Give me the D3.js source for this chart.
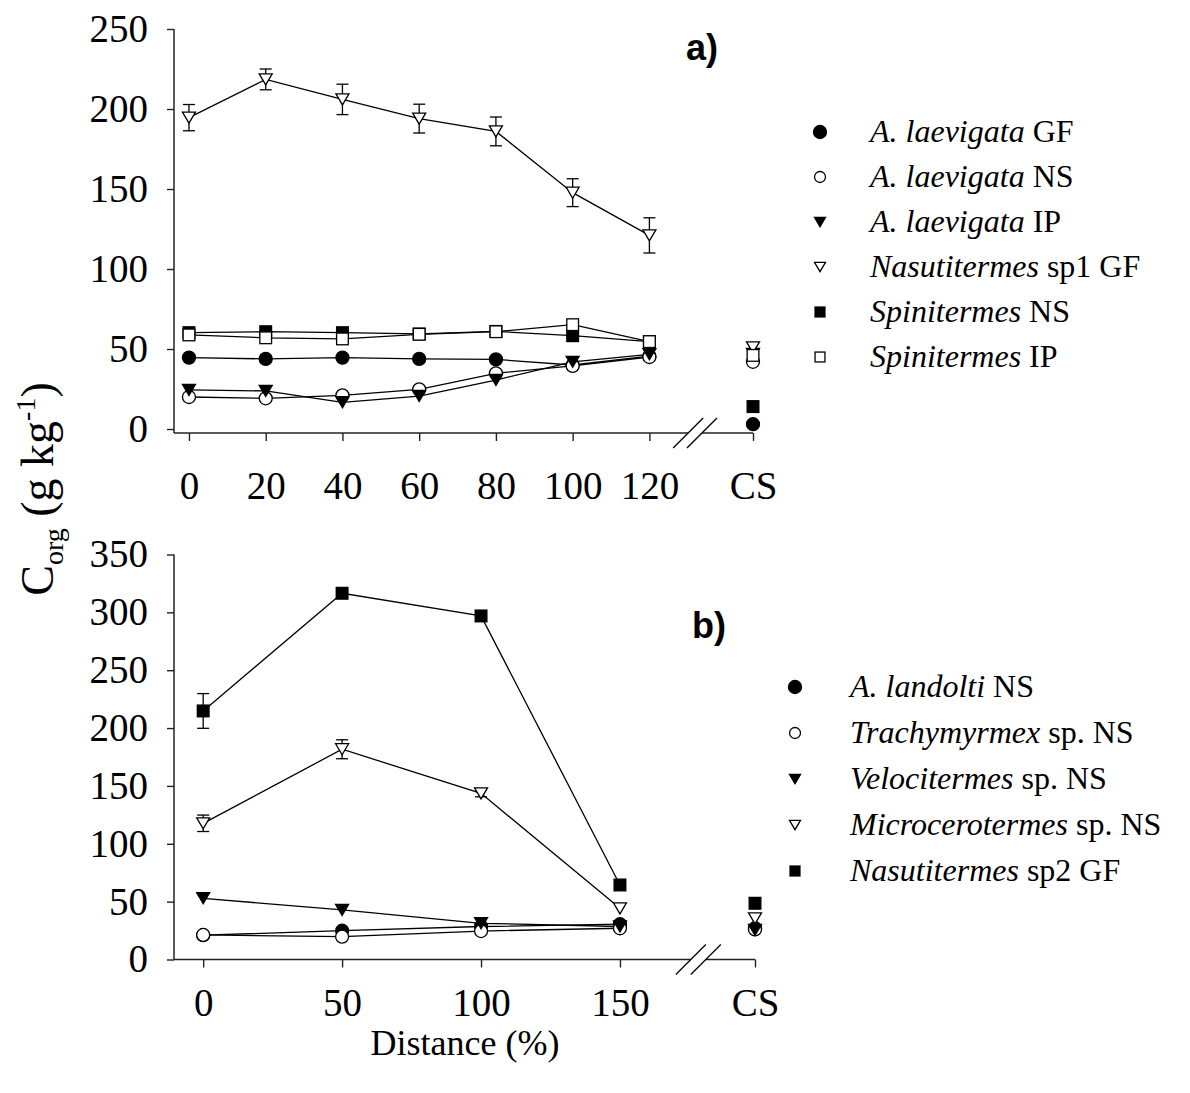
<!DOCTYPE html>
<html>
<head>
<meta charset="utf-8">
<script src="https://cdn.jsdelivr.net/npm/d3@7"></script>
<style>
  body { margin: 0; background: #fff; }
  svg { display: block; }
  .tick text { font-family: "Liberation Serif", "Times New Roman", serif; fill: #000; }
  .tick line { stroke: #222; stroke-width: 1.4px; }
</style>
</head>
<body>
<div id="chart"></div>
<script>
// Panel a) distances and series (legend order)
const distA = [0, 20, 40, 60, 80, 100, 120];
const aLaevigataGF = [44.6, 43.8, 44.6, 43.8, 43.5, 40.0, 45.6];
const aLaevigataNS = [20.0, 19.2, 21.0, 24.8, 34.8, 39.4, 45.0];
const aLaevigataIP = [24.4, 23.8, 16.7, 20.6, 30.6, 42.0, 46.7];
const nasutiSp1GF = [194.6, 218.5, 206.0, 194.0, 186.0, 147.7, 121.0];
const nasutiSp1Err = [8.2, 6.5, 9.5, 9.0, 9.0, 8.7, 11.0];
const spiniNS = [60.2, 60.8, 60.2, 59.4, 61.0, 58.3, 54.6];
const spiniIP = [58.8, 57.0, 56.3, 59.2, 60.8, 65.2, 54.6];
// control soil (CS) values, same order as legend
const csA = [3, 42, 47, 51, 14, 46];
const ticksA = [0, 20, 40, 60, 80, 100, 120];
const yTicksA = [0, 50, 100, 150, 200, 250];

// Panel b)
const distB = [0, 50, 100, 150];
const landoltiNS = [21.0, 24.9, 28.5, 30.5];
const trachyNS = [21.2, 19.7, 24.6, 27.0];
const velociNS = [52.9, 42.8, 31.3, 28.5];
const microNS = [117.7, 181.7, 143.6, 44.2];
const microErr = [7.1, 8.2, 3.0, 0];
const nasutiSp2GF = [214.8, 316.5, 296.9, 64.4];
const nasutiSp2Err = [15.0, 0, 0, 0];
const csB = [27, 26, 25.5, 35.5, 48.6];
const ticksB = [0, 50, 100, 150];
const yTicksB = [0, 50, 100, 150, 200, 250, 300, 350];

const W = 1190, H = 1093;
const serif = '"Liberation Serif", "Times New Roman", serif';

const svg = d3.select("#chart").append("svg")
    .attr("width", W).attr("height", H);

// draw one marker
function marker(g, type, x, y, s) {
    const filled = type.endsWith("F");
    const fill = filled ? "#000" : "#fff";
    if (type.startsWith("circle")) {
        g.append("circle").attr("cx", x).attr("cy", y).attr("r", s / 2)
            .attr("fill", fill).attr("stroke", "#000").attr("stroke-width", 1.3);
    } else if (type.startsWith("square")) {
        g.append("rect").attr("x", x - s * 0.45).attr("y", y - s * 0.45)
            .attr("width", s * 0.9).attr("height", s * 0.9)
            .attr("fill", fill).attr("stroke", "#000").attr("stroke-width", 1.3);
    } else {
        const w = s, h = s * 0.85;
        g.append("path")
            .attr("d", `M${x - w / 2},${y - h / 2}L${x + w / 2},${y - h / 2}L${x},${y + h / 2}Z`)
            .attr("fill", fill).attr("stroke", "#000").attr("stroke-width", 1.3);
    }
}

function panel(cfg) {
    const g = svg.append("g");
    const x = cfg.x, y = cfg.y;

    // Y axis
    const yAxis = g.append("g")
        .attr("transform", `translate(${x.range()[0]},0)`)
        .call(d3.axisLeft(y).tickValues(cfg.yTicks).tickSize(7).tickSizeOuter(0).tickPadding(19));
    yAxis.select(".domain").remove();
    yAxis.selectAll("text").style("font-size", cfg.fs + "px");
    g.append("line")
        .attr("x1", x.range()[0]).attr("x2", x.range()[0])
        .attr("y1", y(cfg.yTicks[cfg.yTicks.length - 1])).attr("y2", cfg.axisY)
        .attr("stroke", "#222").attr("stroke-width", 1.5);

    // X axis (with a break before CS)
    const xAxis = g.append("g")
        .attr("transform", `translate(0,${cfg.axisY})`)
        .call(d3.axisBottom(x).tickValues(cfg.ticks.concat([cfg.csSlot]))
            .tickFormat(d => d === cfg.csSlot ? "CS" : d)
            .tickSize(8).tickSizeOuter(0).tickPadding(cfg.xPad));
    xAxis.select(".domain").remove();
    xAxis.selectAll("text").style("font-size", cfg.fs + "px");
    g.append("line")
        .attr("x1", x.range()[0]).attr("x2", x(cfg.brk[0]))
        .attr("y1", cfg.axisY).attr("y2", cfg.axisY)
        .attr("stroke", "#222").attr("stroke-width", 1.5);
    g.append("line")
        .attr("x1", x(cfg.brk[1])).attr("x2", x(cfg.csSlot))
        .attr("y1", cfg.axisY).attr("y2", cfg.axisY)
        .attr("stroke", "#222").attr("stroke-width", 1.5);
    cfg.brk.forEach(b => {
        g.append("line")
            .attr("x1", x(b) - 15).attr("y1", cfg.axisY + 15)
            .attr("x2", x(b) + 15).attr("y2", cfg.axisY - 15)
            .attr("stroke", "#000").attr("stroke-width", 1.3);
    });

    // Lines, error bars and markers
    cfg.series.forEach((s, i) => {
        const pts = cfg.dist.map((d, j) => [x(d), y(s.values[j])]);
        g.append("path")
            .attr("d", d3.line()(pts))
            .attr("fill", "none").attr("stroke", "#000").attr("stroke-width", 1.3);
        if (s.err) {
            cfg.dist.forEach((d, j) => {
                const e = s.err[j];
                if (!e) return;
                const cx = x(d);
                const y1 = y(s.values[j] + e), y2 = y(s.values[j] - e);
                g.append("line").attr("x1", cx).attr("x2", cx).attr("y1", y1).attr("y2", y2)
                    .attr("stroke", "#000").attr("stroke-width", 1.3);
                [y1, y2].forEach(yy => g.append("line")
                    .attr("x1", cx - 6).attr("x2", cx + 6).attr("y1", yy).attr("y2", yy)
                    .attr("stroke", "#000").attr("stroke-width", 1.3));
            });
        }
    });
    cfg.series.forEach((s, i) => {
        cfg.dist.forEach((d, j) => marker(g, s.shape, x(d), y(s.values[j]), cfg.ms));
        marker(g, s.shape, x(cfg.csSlot), y(cfg.cs[i]), cfg.ms);
    });

    // Panel letter
    g.append("text")
        .attr("x", cfg.letterPos[0]).attr("y", cfg.letterPos[1])
        .style("font-family", '"Liberation Sans", Arial, sans-serif')
        .style("font-weight", "bold").style("font-size", "36px")
        .text(cfg.letter);

    // Legend
    cfg.series.forEach((s, i) => {
        const ly = cfg.legY + i * cfg.legStep;
        marker(g, s.shape, cfg.legX, ly, s.shape === "circleF" ? 13 : 11);
        const t = g.append("text")
            .attr("x", cfg.legTextX).attr("y", ly + 10)
            .style("font-family", serif).style("font-size", "32px");
        t.append("tspan").style("font-style", "italic").text(s.genus);
        t.append("tspan").text(" " + s.rest);
    });
}

panel({
    x: d3.scaleLinear().domain([-3.9, 147]).range([174, 753]),
    y: d3.scaleLinear().domain([-2.5, 250]).range([433, 29]),
    axisY: 433, csSlot: 147, brk: [130.1, 133.7],
    ticks: ticksA, yTicks: yTicksA, dist: distA, cs: csA, fs: 39, xPad: 30, ms: 13,
    letter: "a)", letterPos: [686, 60],
    legX: 820, legTextX: 870, legY: 132, legStep: 45,
    series: [
        {genus: "A. laevigata", rest: "GF", shape: "circleF", values: aLaevigataGF},
        {genus: "A. laevigata", rest: "NS", shape: "circleO", values: aLaevigataNS},
        {genus: "A. laevigata", rest: "IP", shape: "triF", values: aLaevigataIP},
        {genus: "Nasutitermes", rest: "sp1 GF", shape: "triO", values: nasutiSp1GF, err: nasutiSp1Err},
        {genus: "Spinitermes", rest: "NS", shape: "squareF", values: spiniNS},
        {genus: "Spinitermes", rest: "IP", shape: "squareO", values: spiniIP}
    ]
});

panel({
    x: d3.scaleLinear().domain([-10.5, 198.6]).range([174, 755]),
    y: d3.scaleLinear().domain([0, 350]).range([959.5, 554.5]),
    axisY: 959.5, csSlot: 198.6, brk: [175.5, 180.9],
    ticks: ticksB, yTicks: yTicksB, dist: distB, cs: csB, fs: 39, xPad: 21, ms: 13,
    letter: "b)", letterPos: [692, 638],
    legX: 795, legTextX: 850, legY: 687, legStep: 46,
    series: [
        {genus: "A. landolti", rest: "NS", shape: "circleF", values: landoltiNS},
        {genus: "Trachymyrmex", rest: "sp. NS", shape: "circleO", values: trachyNS},
        {genus: "Velocitermes", rest: "sp. NS", shape: "triF", values: velociNS},
        {genus: "Microcerotermes", rest: "sp. NS", shape: "triO", values: microNS, err: microErr},
        {genus: "Nasutitermes", rest: "sp2 GF", shape: "squareF", values: nasutiSp2GF, err: nasutiSp2Err}
    ]
});

// Y axis title
const yt = svg.append("text")
    .attr("transform", "translate(53,489) rotate(-90)")
    .attr("text-anchor", "middle")
    .style("font-family", serif).style("font-size", "46px");
yt.append("tspan").text("C");
yt.append("tspan").attr("dy", 10).style("font-size", "28px").text("org");
yt.append("tspan").attr("dy", -10).text(" (g kg");
yt.append("tspan").attr("dy", -18).style("font-size", "28px").text("-1");
yt.append("tspan").attr("dy", 18).text(")");

// X axis title
svg.append("text")
    .attr("x", 465).attr("y", 1055)
    .attr("text-anchor", "middle")
    .style("font-family", serif).style("font-size", "36px")
    .text("Distance (%)");
</script>
</body>
</html>
